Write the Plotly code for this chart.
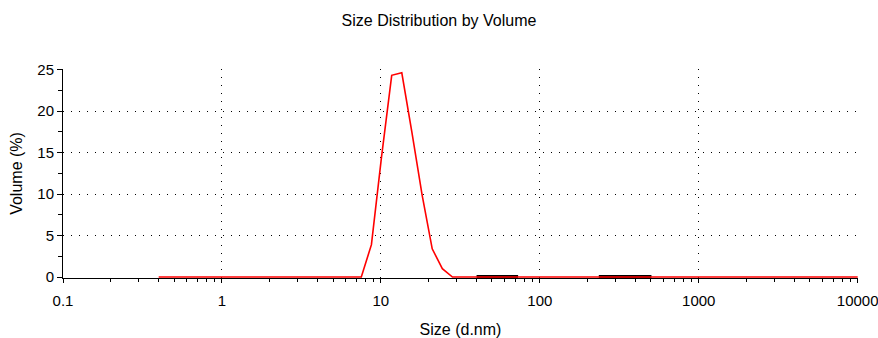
import plotly.graph_objects as go

# Zetasizer size classes (d.nm) and volume (%)
sizes = [0.4, 0.4632, 0.5365, 0.6213, 0.7195, 0.8332, 0.9649, 1.117, 1.294, 1.499,
         1.736, 2.010, 2.328, 2.696, 3.122, 3.615, 4.187, 4.849, 5.615, 6.503,
         7.531, 8.721, 10.10, 11.70, 13.54, 15.69, 18.17, 21.04, 24.36, 28.21,
         32.67, 37.84, 43.82, 50.75, 58.77, 68.06, 78.82, 91.28, 105.7, 122.4,
         141.8, 164.2, 190.1, 220.2, 255.0, 295.3, 342.0, 396.1, 458.7, 531.2,
         615.1, 712.4, 825.0, 955.4, 1106, 1281, 1484, 1718, 1990, 2305,
         2669, 3091, 3580, 4145, 4801, 5560, 6439, 7456, 8635, 10000]
volume = [0]*20 + [0.0, 3.9, 14.5, 24.3, 24.6, 17.4, 9.9, 3.4, 1.0, 0.0] + [0]*40

# secondary segments drawn in black along the baseline
seg1_x = [40, 73]
seg1_y = [0, 0]
seg2_x = [235, 504]
seg2_y = [0, 0]

x_tickvals = [0.1, 1, 10, 100, 1000, 10000]
x_ticktext = ["0.1", "1", "10", "100", "1000", "10000"]
y_tickvals = [0, 5, 10, 15, 20, 25]

fig = go.Figure()
for sx, sy in [(seg1_x, seg1_y), (seg2_x, seg2_y)]:
    fig.add_trace(go.Scatter(x=sx, y=sy, mode="lines",
                             line=dict(color="black", width=4), hoverinfo="skip"))
fig.add_trace(go.Scatter(x=sizes, y=volume, mode="lines",
                         line=dict(color="#ff0000", width=1.6)))

font_family = "Liberation Sans, Arial, sans-serif"
fig.update_layout(
    width=878, height=338,
    margin=dict(l=63, r=20, t=69, b=60, autoexpand=False),
    paper_bgcolor="white", plot_bgcolor="white",
    showlegend=False,
    font=dict(family=font_family, size=15, color="black"),
    title=dict(text="Size Distribution by Volume", x=0.5, xanchor="center",
               y=1 - 20/338, yanchor="middle", font=dict(size=16, color="black")),
)
fig.update_xaxes(
    type="log", range=[-1, 4.002], automargin=False,
    tickvals=x_tickvals, ticktext=x_ticktext, ticklabeloverflow="allow",
    showgrid=True, gridcolor="black", griddash="1px,7px", gridwidth=1,
    showline=True, linecolor="black", linewidth=1, mirror=False,
    ticks="outside", ticklen=4, tickcolor="black", ticklabelstandoff=5,
    minor=dict(ticks="outside", ticklen=3, tickcolor="black", dtick="D1", showgrid=False),
    tickfont=dict(size=15), layer="below traces",
    title=dict(text="Size (d.nm)", font=dict(size=16), standoff=17),
    zeroline=False,
)
fig.update_yaxes(
    range=[-0.12, 25.06], automargin=False, tickvals=y_tickvals, ticklabeloverflow="allow",
    showgrid=True, gridcolor="black", griddash="1px,7px", gridwidth=1,
    showline=True, linecolor="black", linewidth=1,
    ticks="outside", ticklen=5, tickcolor="black",
    minor=dict(ticks="outside", ticklen=4, tickcolor="black", dtick=2.5, tick0=0, showgrid=False),
    tickfont=dict(size=15), layer="below traces",
    title=dict(text="Volume (%)", font=dict(size=16), standoff=10),
    zeroline=False,
)
fig.write_html("out.html", config={"displayModeBar": False})

# remove the default page margin so the figure sits at the window origin
with open("out.html", "r", encoding="utf-8") as f:
    html = f.read()
html = html.replace("<head>", "<head><style>html,body{margin:0;padding:0;overflow:hidden;}</style>", 1)
with open("out.html", "w", encoding="utf-8") as f:
    f.write(html)
